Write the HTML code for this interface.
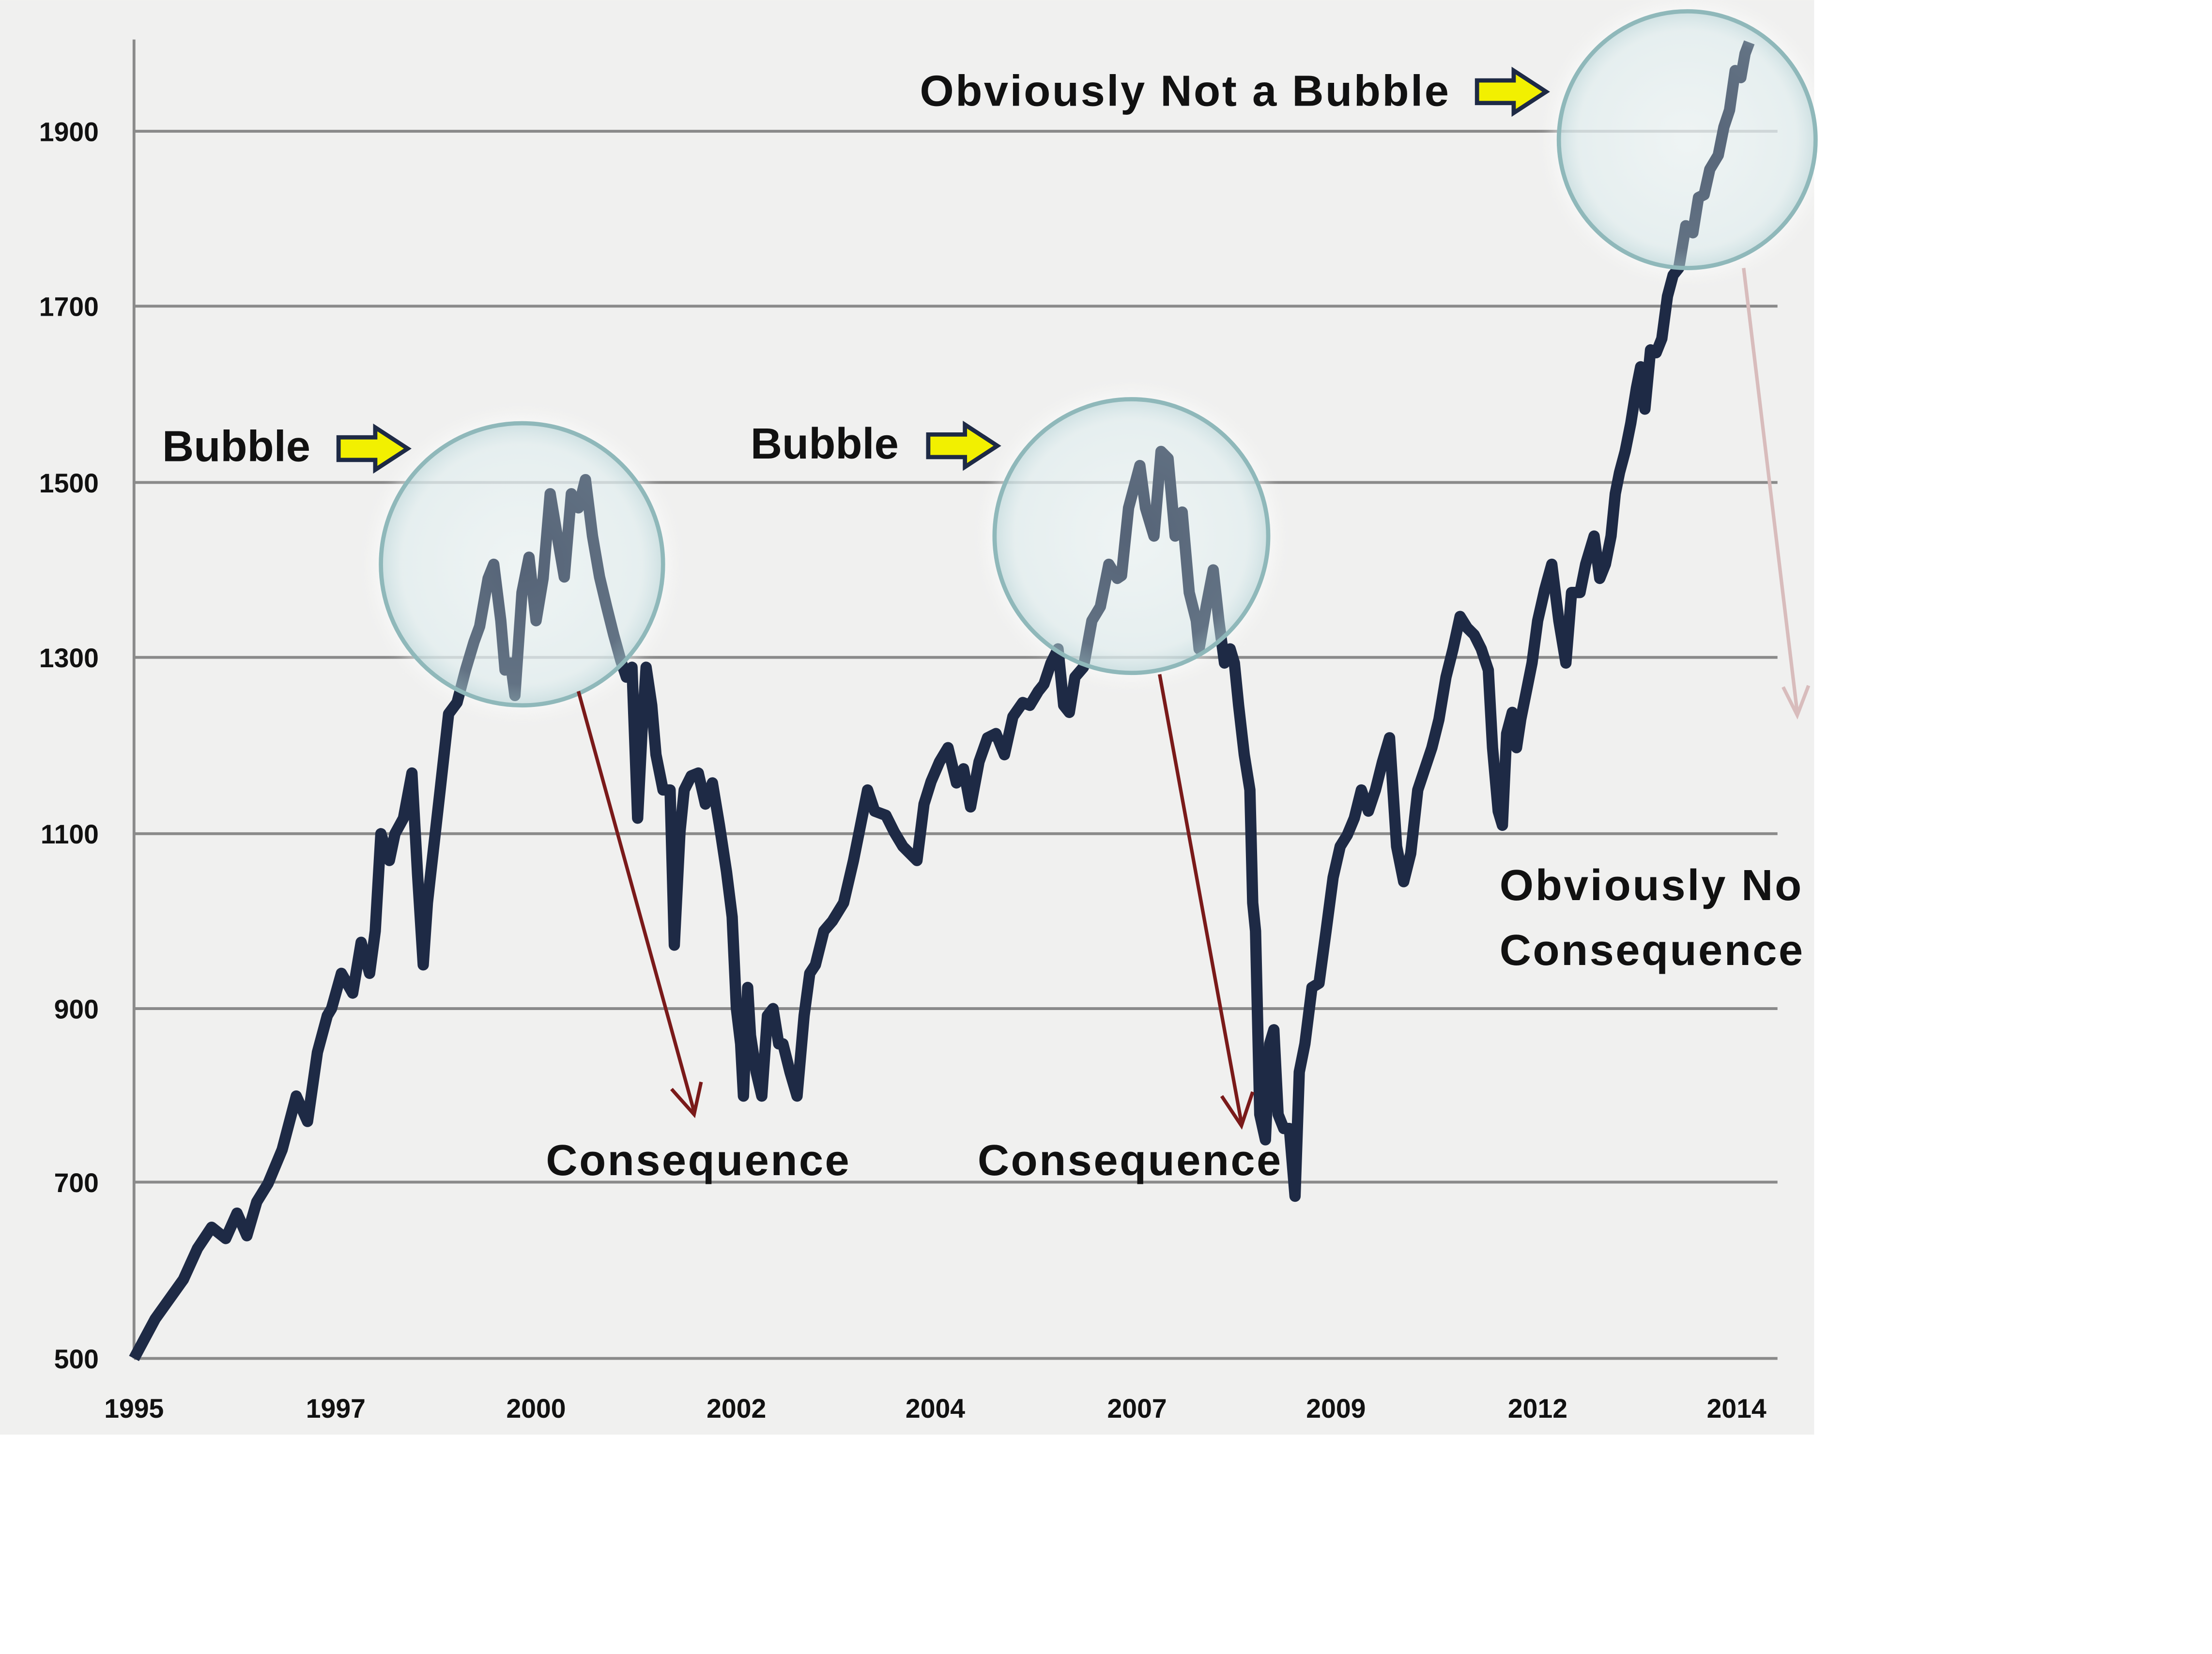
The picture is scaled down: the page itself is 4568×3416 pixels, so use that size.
<!DOCTYPE html>
<html><head><meta charset="utf-8"><style>
html,body{margin:0;padding:0;background:#fff;width:4568px;height:3416px;overflow:hidden}
svg{display:block}
text{font-family:"Liberation Sans",sans-serif;font-weight:bold;fill:#111}
</style></head><body>
<svg width="4568" height="3416" viewBox="0 0 1568 1172.5" xmlns="http://www.w3.org/2000/svg">
<defs>
<radialGradient id="cg" cx="50%" cy="50%" r="50%">
<stop offset="0%" stop-color="#d6e8ea" stop-opacity="0.3"/>
<stop offset="85%" stop-color="#c9dfe2" stop-opacity="0.4"/>
<stop offset="100%" stop-color="#b2d1d4" stop-opacity="0.6"/>
</radialGradient>
<filter id="sh" x="-20%" y="-20%" width="140%" height="140%"><feGaussianBlur stdDeviation="6"/></filter>
</defs>
<rect x="0" y="0" width="1286" height="1017" fill="#f0f0ef"/>
<g stroke="#8a8a8a" stroke-width="2">
<line x1="95" y1="93" x2="1260" y2="93"/>
<line x1="95" y1="217" x2="1260" y2="217"/>
<line x1="95" y1="342" x2="1260" y2="342"/>
<line x1="95" y1="466" x2="1260" y2="466"/>
<line x1="95" y1="591" x2="1260" y2="591"/>
<line x1="95" y1="715" x2="1260" y2="715"/>
<line x1="95" y1="838" x2="1260" y2="838"/>
<line x1="95" y1="963" x2="1260" y2="963"/>
<line x1="95" y1="28" x2="95" y2="963"/>
</g>
<g font-size="19" text-anchor="end">
<text x="70" y="100">1900</text><text x="70" y="224">1700</text><text x="70" y="349">1500</text>
<text x="70" y="473">1300</text><text x="70" y="598">1100</text><text x="70" y="722">900</text>
<text x="70" y="845">700</text><text x="70" y="970">500</text>
</g>
<g font-size="19" text-anchor="middle">
<text x="95" y="1005">1995</text><text x="238" y="1005">1997</text><text x="380" y="1005">2000</text>
<text x="522" y="1005">2002</text><text x="663" y="1005">2004</text><text x="806" y="1005">2007</text>
<text x="947" y="1005">2009</text><text x="1090" y="1005">2012</text><text x="1231" y="1005">2014</text>
</g>
<g>
<circle cx="370" cy="400" r="104" fill="#ffffff" opacity="0.6" filter="url(#sh)"/>
<circle cx="802" cy="380" r="101" fill="#ffffff" opacity="0.6" filter="url(#sh)"/>
<circle cx="1196" cy="99" r="95" fill="#ffffff" opacity="0.6" filter="url(#sh)"/>
</g>
<polyline fill="none" stroke="#1e2a45" stroke-width="8" stroke-linejoin="round" points="
95,963 110,935 130,907 140,885 150,870 160,878 168,860 175,876 182,852 190,839 200,815 210,777 218,795 225,746 232,720 235,715 242,690 250,704 256,668 262,690 266,660 270,591 276,610 280,591 286,580 292,548 296,620 300,684 303,640 305,622 312,560 318,506 324,498 330,475 336,455 340,444 346,410 350,400 355,440 358,475 362,470 365,493 370,420 375,395 380,440 385,410 390,350 395,380 400,409 405,350 410,360 415,340 420,380 425,409 430,430 435,450 440,468 444,480 448,473 452,580 455,520 458,473 462,500 465,535 470,560 475,560 478,670 482,590 485,560 490,550 495,548 500,570 505,555 510,585 515,618 519,650 522,715 525,740 527,777 530,700 532,734 536,760 540,777 544,720 548,715 552,740 555,740 560,760 565,777 570,720 574,690 578,684 584,660 590,653 598,640 605,610 610,585 615,560 620,575 628,578 634,590 640,600 645,605 650,610 655,570 660,554 666,540 672,530 678,555 683,545 688,572 694,540 700,523 706,520 712,535 718,508 725,498 730,500 736,490 740,485 745,470 750,460 754,500 758,505 762,480 768,473 774,440 780,430 786,400 792,410 795,408 800,360 808,330 812,360 818,380 823,320 828,325 833,380 838,363 843,420 848,440 850,460 855,430 860,404 864,440 868,470 872,460 875,470 878,500 882,535 886,560 888,640 890,660 893,790 897,808 900,740 903,730 906,790 910,800 914,800 918,848 921,760 925,740 930,700 935,697 940,660 945,622 950,600 955,592 960,580 965,560 970,575 975,560 980,540 985,523 990,600 995,625 1000,605 1005,560 1010,545 1015,530 1020,510 1025,480 1030,460 1035,437 1040,445 1045,450 1050,460 1055,475 1058,530 1062,575 1065,585 1068,520 1072,505 1075,530 1078,510 1082,490 1086,470 1090,440 1095,418 1100,400 1105,440 1110,470 1114,420 1120,420 1124,400 1130,380 1134,410 1138,400 1142,380 1145,350 1148,335 1152,320 1156,300 1160,275 1163,260 1166,290 1170,248 1174,250 1178,240 1182,210 1186,195 1190,190 1195,160 1200,165 1204,140 1208,138 1212,120 1218,110 1222,90 1226,78 1230,50 1234,55 1237,38 1240,30"/>
<g>
<circle cx="370" cy="400" r="100" fill="url(#cg)" stroke="#8fb8ba" stroke-width="3"/>
<circle cx="802" cy="380" r="97" fill="url(#cg)" stroke="#8fb8ba" stroke-width="3"/>
<circle cx="1196" cy="99" r="91" fill="url(#cg)" stroke="#8fb8ba" stroke-width="3"/>
</g>
<g stroke="#7a1a1a" stroke-width="2.5" fill="none">
<line x1="410" y1="490" x2="492" y2="788"/><polyline points="476,772 492,790 497,767"/>
<line x1="822" y1="478" x2="880" y2="796"/><polyline points="866,777 880,798 888,774"/>
</g>
<g stroke="#d8bcbc" stroke-width="2.5" fill="none">
<line x1="1236" y1="190" x2="1274" y2="505"/><polyline points="1264,487 1274,507 1282,486"/>
</g>
<g fill="#f2f000" stroke="#1e2a45" stroke-width="3">
<polygon points="240,310 266,310 266,303 289,318 266,333 266,326 240,326"/>
<polygon points="658,308 684,308 684,301 707,316 684,331 684,324 658,324"/>
<polygon points="1047,57 1073,57 1073,50 1096,65 1073,80 1073,73 1047,73"/>
</g>
<g font-size="31">
<text x="115" y="327">Bubble</text>
<text x="532" y="325">Bubble</text>
<text x="652" y="75" textLength="375">Obviously Not a Bubble</text>
<text x="387" y="833" textLength="215">Consequence</text>
<text x="693" y="833" textLength="215">Consequence</text>
<text x="1063" y="638" textLength="214">Obviously No</text>
<text x="1063" y="684" textLength="215">Consequence</text>
</g>
</svg>
</body></html>
